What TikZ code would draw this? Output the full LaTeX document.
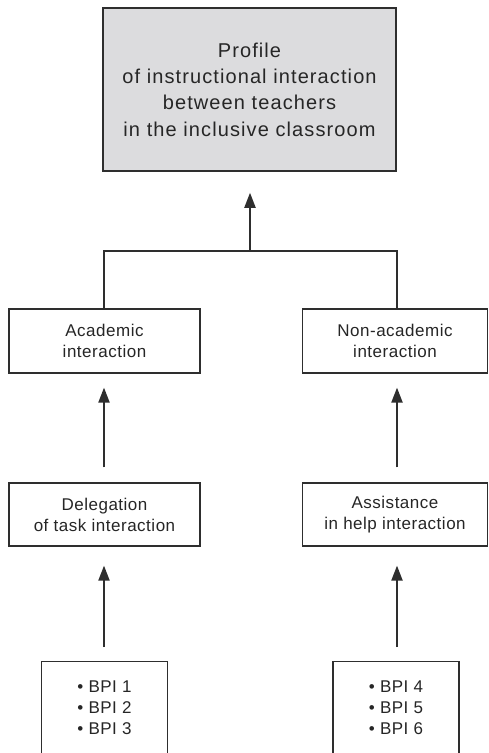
\documentclass[tikz,border=0pt]{standalone}
\usepackage{fontspec}
\setmainfont{Liberation Sans}
\newfontfamily\bigsp[LetterSpace=5.5]{Liberation Sans}
\newfontfamily\smallsp[LetterSpace=3.0]{Liberation Sans}
\usetikzlibrary{arrows.meta}
\definecolor{linegray}{HTML}{2E2E2E}
\definecolor{boxgray}{HTML}{DCDCDE}
\definecolor{textgray}{HTML}{262626}
\tikzset{
  topbox/.style={draw=linegray, line width=1.5pt, fill=boxgray, text=textgray, minimum width=293pt, minimum height=163pt, align=center, font=\bigsp\fontsize{20}{26.3}\selectfont, inner sep=0pt},
  midbox/.style={draw=linegray, line width=1.2pt, text=textgray, minimum height=64pt, align=center, font=\smallsp\fontsize{17}{21}\selectfont, inner sep=0pt},
  bpibox/.style={draw=linegray, line width=1.2pt, minimum width=126pt, minimum height=130pt, anchor=north, inner sep=0pt},
  bpitext/.style={align=left, text=textgray, font=\smallsp\fontsize{17}{21}\selectfont, inner sep=0pt},
  conn/.style={draw=linegray, line width=2pt},
  arr/.style={conn, -{Triangle[length=15pt,width=11pt]}},
}
\begin{document}
\begin{tikzpicture}[x=1pt,y=-1pt]
\clip (0,0) rectangle (488,753);
\fill[white] (0,0) rectangle (488,753);
\node[topbox] (top) at (249.5,89.5) {Profile\\of instructional interaction\\between teachers\\in the inclusive classroom};
\node[midbox, minimum width=191pt] (acad) at (104.5,341) {Academic\\interaction};
\node[midbox, minimum width=185pt] (nonacad) at (395,341) {Non-academic\\interaction};
\node[midbox, minimum width=191pt, minimum height=63pt] (deleg) at (104.5,514.5) {Delegation\\of task interaction};
\node[midbox, minimum width=185pt, minimum height=63pt] (assist) at (395,514.5) {Assistance\\in help interaction};
\node[bpibox] (bpiA) at (104.5,661) {};
\node[bpibox] (bpiB) at (396,661) {};
\node[bpitext] (bpiAt) at (104.5,708) {• BPI 1\\• BPI 2\\• BPI 3};
\node[bpitext] (bpiBt) at (396,708) {• BPI 4\\• BPI 5\\• BPI 6};
\coordinate (join) at (250,251);
\draw[conn] ([xshift=-0.5pt]acad.north) |- (join) -| ([xshift=2pt]nonacad.north);
\draw[arr, shorten >=21pt] (join) -- ([xshift=0.5pt]top.south);
\draw[arr, shorten <=15pt, shorten >=14pt] ([xshift=-0.5pt]deleg.north) -- ([xshift=-0.5pt]acad.south);
\draw[arr, shorten <=15pt, shorten >=14pt] ([xshift=2pt]assist.north) -- ([xshift=2pt]nonacad.south);
\draw[arr, shorten <=14pt, shorten >=19pt] ([xshift=-0.5pt]bpiA.north) -- ([xshift=-0.5pt]deleg.south);
\draw[arr, shorten <=14pt, shorten >=19pt] ([xshift=1pt]bpiB.north) -- ([xshift=2pt]assist.south);
\end{tikzpicture}
\end{document}
